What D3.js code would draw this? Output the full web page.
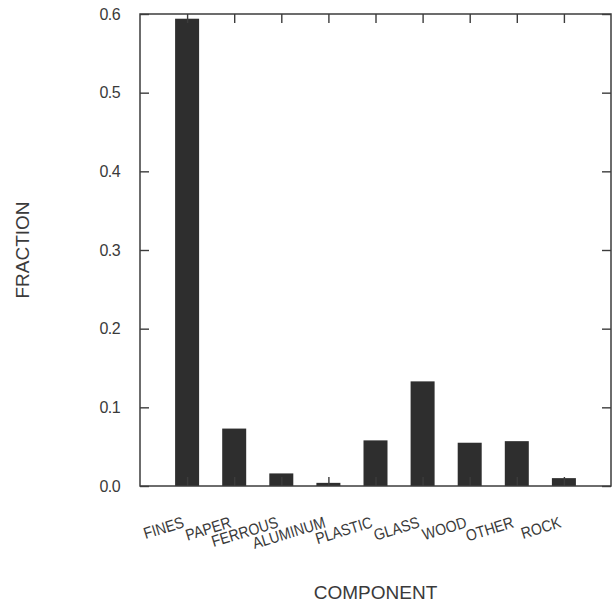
<!DOCTYPE html>
<html><head><meta charset="utf-8">
<script src="https://cdn.jsdelivr.net/npm/d3@7"></script>
<style>
html,body{margin:0;padding:0;background:#fff;}
svg text{font-family:"Liberation Sans",Arial,sans-serif;fill:#3a3a3a;}
</style></head>
<body>
<svg id="c" width="616" height="605"></svg>
<script>
const categories = ["FINES","PAPER","FERROUS","ALUMINUM","PLASTIC","GLASS","WOOD","OTHER","ROCK"];
const fractions = [0.594, 0.073, 0.016, 0.004, 0.058, 0.133, 0.055, 0.057, 0.010];
const yTicks = [0.0, 0.1, 0.2, 0.3, 0.4, 0.5, 0.6];
const yTickLabels = ["0.0","0.1","0.2","0.3","0.4","0.5","0.6"];

(function () {
const svg = d3.select("#c");
const L = 140, R = 611, T = 14, B = 486;
const x = d3.scalePoint().domain(categories).range([L, R]).padding(1);
const y = d3.scaleLinear().domain([0, 0.6]).range([B, T]);
const barW = 24;
const stroke = "#3c3c3c";

// bars
svg.append("g").selectAll("rect").data(categories).join("rect")
  .attr("x", d => x(d) - barW/2)
  .attr("y", (d,i) => y(fractions[i]))
  .attr("width", barW)
  .attr("height", (d,i) => y(0) - y(fractions[i]))
  .attr("fill", "#2e2e2e");

// axes with inward ticks
const fmt = (d) => yTickLabels[yTicks.indexOf(d)];
const gLeft = svg.append("g").attr("transform", `translate(${L},0)`)
  .call(d3.axisRight(y).tickValues(yTicks).tickSize(9).tickFormat(""));
const gRight = svg.append("g").attr("transform", `translate(${R},0)`)
  .call(d3.axisLeft(y).tickValues(yTicks).tickSize(9).tickFormat(""));
const gTop = svg.append("g").attr("transform", `translate(0,${T})`)
  .call(d3.axisBottom(x).tickSize(9).tickFormat(""));
const gBottom = svg.append("g").attr("transform", `translate(0,${B})`)
  .call(d3.axisTop(x).tickSize(9).tickFormat(""));
[gLeft, gRight, gTop, gBottom].forEach(g => {
  g.selectAll(".domain").remove();
  g.selectAll("line").attr("stroke", stroke).attr("stroke-width", 1.4);
});
// frame
svg.append("rect").attr("x", L).attr("y", T).attr("width", R - L).attr("height", B - T)
  .attr("fill", "none").attr("stroke", stroke).attr("stroke-width", 1.5);

// y tick labels
svg.append("g").selectAll("text").data(yTicks).join("text")
  .attr("x", 120).attr("y", d => y(d)).attr("dy", "0.36em")
  .attr("text-anchor", "end").attr("font-size", 16).attr("letter-spacing", -0.6)
  .text(fmt);

// category labels
svg.append("g").selectAll("text").data(categories).join("text")
  .attr("transform", d => `translate(${x(d) - 2},${527}) rotate(-17) scale(0.88,1)`)
  .attr("text-anchor", "end").attr("font-size", 16)
  .text(d => d);

// axis titles
svg.append("text").attr("transform", `translate(29,${(T + B) / 2}) rotate(-90)`)
  .attr("text-anchor", "middle").attr("font-size", 19).text("FRACTION");
svg.append("text").attr("x", (L + R) / 2).attr("y", 599)
  .attr("text-anchor", "middle").attr("font-size", 19).text("COMPONENT");
})();
</script>
</body></html>
